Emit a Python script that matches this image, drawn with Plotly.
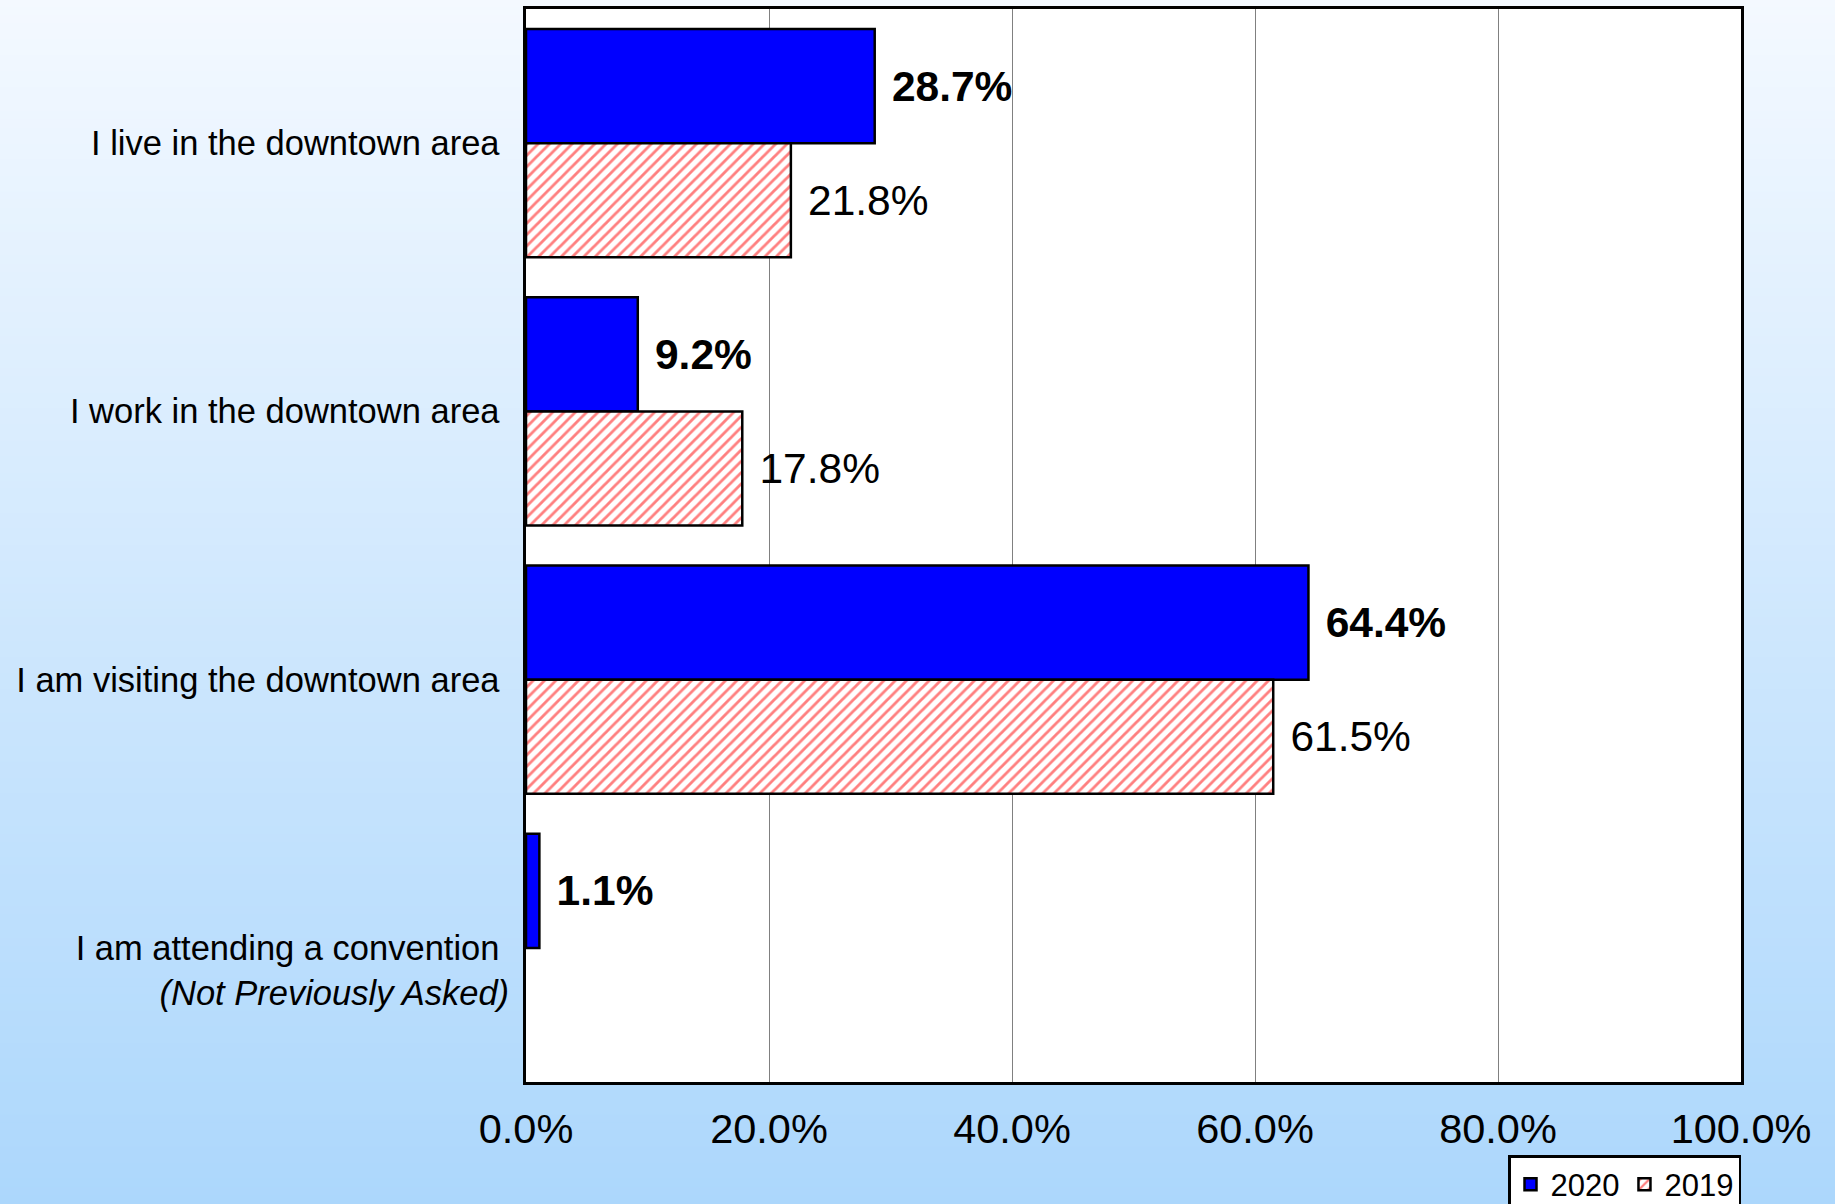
import plotly.graph_objects as go

# Survey responses: reason for being downtown
categories = [
    "I live in the downtown area\u00a0",
    "I work in the downtown area\u00a0",
    "I am visiting the downtown area\u00a0",
    "<br>I am attending a convention\u00a0<br><i>(Not Previously Asked)</i>",
]
values_2020 = [28.7, 9.2, 64.4, 1.1]
values_2019 = [21.8, 17.8, 61.5, None]
x_ticks = [0, 20, 40, 60, 80, 100]

W, H = 1835, 1204
M_L, M_R, M_T, M_B = 526, 94, 9, 122
FONT = "Liberation Sans, Arial, sans-serif"

fig = go.Figure()

fig.add_trace(go.Bar(
    name="2020", y=categories, x=values_2020, orientation="h",
    marker=dict(color="#0000ff", line=dict(color="black", width=2.5)),
    texttemplate="\u2004%{x:.1f}%", textposition="outside",
    textfont=dict(size=42.5, color="black", family=FONT, weight="bold"),
    constraintext="none", cliponaxis=False,
))
fig.add_trace(go.Bar(
    name="2019", y=categories, x=values_2019, orientation="h",
    marker=dict(color="white", line=dict(color="black", width=2.5),
                pattern=dict(shape="/", fgcolor="#ff0000", bgcolor="white",
                             size=8, solidity=0.35)),
    texttemplate="\u2004%{x:.1f}%", textposition="outside",
    textfont=dict(size=42.5, color="black", family=FONT),
    constraintext="none", cliponaxis=False,
))

# vertical gradient background built from thin paper-space bands
plot_h = H - M_T - M_B
def py(px):
    return 1 - (px - M_T) / plot_h

top_c = (244, 249, 255)
bot_c = (172, 215, 252)
n_bands = 150
shapes = []
for i in range(n_bands):
    y0 = H * i / n_bands
    y1 = H * (i + 1) / n_bands
    t = (i + 0.5) / n_bands
    c = tuple(round(top_c[k] + (bot_c[k] - top_c[k]) * t) for k in range(3))
    shapes.append(dict(type="rect", xref="paper", yref="paper",
                       x0=-1, x1=2, y0=py(y1) - 0.001, y1=py(y0) + 0.001,
                       fillcolor="rgb(%d,%d,%d)" % c, line=dict(width=0),
                       layer="below"))
shapes.append(dict(type="rect", xref="x domain", yref="y domain",
                   x0=0, x1=1, y0=0, y1=1, fillcolor="white",
                   line=dict(width=0), layer="below"))

fig.update_layout(
    width=W, height=H,
    margin=dict(l=M_L, r=M_R, t=M_T, b=M_B, pad=0, autoexpand=False),
    paper_bgcolor="#d0e7fc", plot_bgcolor="white",
    barmode="group", bargap=0.15, bargroupgap=0,
    font=dict(family=FONT, color="black"),
    shapes=shapes,
    showlegend=True,
    legend=dict(
        orientation="h", x=1, xanchor="right", y=py(1155), yanchor="top",
        font=dict(size=31, color="black", family=FONT),
        bgcolor="white", bordercolor="black", borderwidth=2.5,
        traceorder="normal", itemwidth=30,
    ),
    xaxis=dict(
        range=[0, 100], tickvals=x_ticks,
        ticktext=["%.1f%%" % v for v in x_ticks],
        showgrid=True, gridcolor="#808080", gridwidth=1,
        showline=True, linecolor="black", linewidth=3, mirror=True,
        ticks="", tickfont=dict(size=41.5, color="black"),
        ticklabelstandoff=8, zeroline=False,
    ),
    yaxis=dict(
        autorange="reversed", showgrid=False,
        showline=True, linecolor="black", linewidth=3, mirror=True,
        ticks="", tickfont=dict(size=34.5, color="black"),
        ticklabelstandoff=7,
    ),
)

fig.write_html("out.html")
